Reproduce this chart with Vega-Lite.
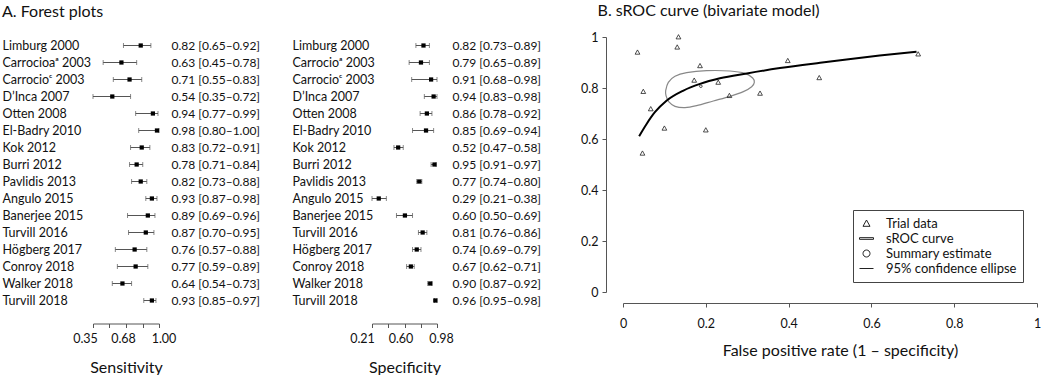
{
  "$schema": "https://vega.github.io/schema/vega-lite/v6.json",
  "padding": {"left": 2, "top": 3, "right": 0, "bottom": 0},
  "config": {
    "font": "Lato",
    "view": {"stroke": null},
    "title": {"fontSize": 16, "fontWeight": "normal", "anchor": "start", "color": "#111"},
    "axis": {"labelFontSize": 12.5, "labelColor": "#111", "domainColor": "#555", "tickColor": "#555", "titleFontWeight": "normal", "titleColor": "#111", "grid": false}
  },
  "datasets": {
    "studies": [
      {"idx": 1, "name_sens": "Limburg 2000", "name_spec": "Limburg 2000", "sens": 0.82, "sens_lo": 0.65, "sens_hi": 0.92, "sens_ci": "0.82 [0.65–0.92]", "spec": 0.82, "spec_lo": 0.73, "spec_hi": 0.89, "spec_ci": "0.82 [0.73–0.89]"},
      {"idx": 2, "name_sens": "Carrocioaᵃ 2003", "name_spec": "Carrocioᵃ 2003", "sens": 0.63, "sens_lo": 0.45, "sens_hi": 0.78, "sens_ci": "0.63 [0.45–0.78]", "spec": 0.79, "spec_lo": 0.65, "spec_hi": 0.89, "spec_ci": "0.79 [0.65–0.89]"},
      {"idx": 3, "name_sens": "Carrocioᶜ 2003", "name_spec": "Carrocioᶜ 2003", "sens": 0.71, "sens_lo": 0.55, "sens_hi": 0.83, "sens_ci": "0.71 [0.55–0.83]", "spec": 0.91, "spec_lo": 0.68, "spec_hi": 0.98, "spec_ci": "0.91 [0.68–0.98]"},
      {"idx": 4, "name_sens": "D’Inca 2007", "name_spec": "D’Inca 2007", "sens": 0.54, "sens_lo": 0.35, "sens_hi": 0.72, "sens_ci": "0.54 [0.35–0.72]", "spec": 0.94, "spec_lo": 0.83, "spec_hi": 0.98, "spec_ci": "0.94 [0.83–0.98]"},
      {"idx": 5, "name_sens": "Otten 2008", "name_spec": "Otten 2008", "sens": 0.94, "sens_lo": 0.77, "sens_hi": 0.99, "sens_ci": "0.94 [0.77–0.99]", "spec": 0.86, "spec_lo": 0.78, "spec_hi": 0.92, "spec_ci": "0.86 [0.78–0.92]"},
      {"idx": 6, "name_sens": "El-Badry 2010", "name_spec": "El-Badry 2010", "sens": 0.98, "sens_lo": 0.80, "sens_hi": 1.00, "sens_ci": "0.98 [0.80–1.00]", "spec": 0.85, "spec_lo": 0.69, "spec_hi": 0.94, "spec_ci": "0.85 [0.69–0.94]"},
      {"idx": 7, "name_sens": "Kok 2012", "name_spec": "Kok 2012", "sens": 0.83, "sens_lo": 0.72, "sens_hi": 0.91, "sens_ci": "0.83 [0.72–0.91]", "spec": 0.52, "spec_lo": 0.47, "spec_hi": 0.58, "spec_ci": "0.52 [0.47–0.58]"},
      {"idx": 8, "name_sens": "Burri 2012", "name_spec": "Burri 2012", "sens": 0.78, "sens_lo": 0.71, "sens_hi": 0.84, "sens_ci": "0.78 [0.71–0.84]", "spec": 0.95, "spec_lo": 0.91, "spec_hi": 0.97, "spec_ci": "0.95 [0.91–0.97]"},
      {"idx": 9, "name_sens": "Pavlidis 2013", "name_spec": "Pavlidis 2013", "sens": 0.82, "sens_lo": 0.73, "sens_hi": 0.88, "sens_ci": "0.82 [0.73–0.88]", "spec": 0.77, "spec_lo": 0.74, "spec_hi": 0.80, "spec_ci": "0.77 [0.74–0.80]"},
      {"idx": 10, "name_sens": "Angulo 2015", "name_spec": "Angulo 2015", "sens": 0.93, "sens_lo": 0.87, "sens_hi": 0.98, "sens_ci": "0.93 [0.87–0.98]", "spec": 0.29, "spec_lo": 0.21, "spec_hi": 0.38, "spec_ci": "0.29 [0.21–0.38]"},
      {"idx": 11, "name_sens": "Banerjee 2015", "name_spec": "Banerjee 2015", "sens": 0.89, "sens_lo": 0.69, "sens_hi": 0.96, "sens_ci": "0.89 [0.69–0.96]", "spec": 0.60, "spec_lo": 0.50, "spec_hi": 0.69, "spec_ci": "0.60 [0.50–0.69]"},
      {"idx": 12, "name_sens": "Turvill 2016", "name_spec": "Turvill 2016", "sens": 0.87, "sens_lo": 0.70, "sens_hi": 0.95, "sens_ci": "0.87 [0.70–0.95]", "spec": 0.81, "spec_lo": 0.76, "spec_hi": 0.86, "spec_ci": "0.81 [0.76–0.86]"},
      {"idx": 13, "name_sens": "Högberg 2017", "name_spec": "Högberg 2017", "sens": 0.76, "sens_lo": 0.57, "sens_hi": 0.88, "sens_ci": "0.76 [0.57–0.88]", "spec": 0.74, "spec_lo": 0.69, "spec_hi": 0.79, "spec_ci": "0.74 [0.69–0.79]"},
      {"idx": 14, "name_sens": "Conroy 2018", "name_spec": "Conroy 2018", "sens": 0.77, "sens_lo": 0.59, "sens_hi": 0.89, "sens_ci": "0.77 [0.59–0.89]", "spec": 0.67, "spec_lo": 0.62, "spec_hi": 0.71, "spec_ci": "0.67 [0.62–0.71]"},
      {"idx": 15, "name_sens": "Walker 2018", "name_spec": "Walker 2018", "sens": 0.64, "sens_lo": 0.54, "sens_hi": 0.73, "sens_ci": "0.64 [0.54–0.73]", "spec": 0.90, "spec_lo": 0.87, "spec_hi": 0.92, "spec_ci": "0.90 [0.87–0.92]"},
      {"idx": 16, "name_sens": "Turvill 2018", "name_spec": "Turvill 2018", "sens": 0.93, "sens_lo": 0.85, "sens_hi": 0.97, "sens_ci": "0.93 [0.85–0.97]", "spec": 0.96, "spec_lo": 0.95, "spec_hi": 0.98, "spec_ci": "0.96 [0.95–0.98]"}
    ],
    "trials": [
      {"fpr": 0.035, "sens": 0.940},
      {"fpr": 0.134, "sens": 1.000},
      {"fpr": 0.131, "sens": 0.960},
      {"fpr": 0.049, "sens": 0.786},
      {"fpr": 0.067, "sens": 0.718},
      {"fpr": 0.047, "sens": 0.544},
      {"fpr": 0.100, "sens": 0.642},
      {"fpr": 0.200, "sens": 0.635},
      {"fpr": 0.186, "sens": 0.887},
      {"fpr": 0.172, "sens": 0.830},
      {"fpr": 0.230, "sens": 0.822},
      {"fpr": 0.257, "sens": 0.770},
      {"fpr": 0.331, "sens": 0.779},
      {"fpr": 0.398, "sens": 0.907},
      {"fpr": 0.474, "sens": 0.840},
      {"fpr": 0.713, "sens": 0.933}
    ],
    "curve": [
      {"fpr": 0.039, "sens": 0.611},
      {"fpr": 0.057, "sens": 0.659},
      {"fpr": 0.077, "sens": 0.705},
      {"fpr": 0.105, "sens": 0.750},
      {"fpr": 0.146, "sens": 0.790},
      {"fpr": 0.186, "sens": 0.816},
      {"fpr": 0.234, "sens": 0.838},
      {"fpr": 0.299, "sens": 0.857},
      {"fpr": 0.379, "sens": 0.878},
      {"fpr": 0.476, "sens": 0.899},
      {"fpr": 0.540, "sens": 0.912},
      {"fpr": 0.620, "sens": 0.927},
      {"fpr": 0.709, "sens": 0.942}
    ],
    "ellipse": [
      {"idx": 1, "fpr": 0.1031, "sens": 0.7895},
      {"idx": 2, "fpr": 0.1095, "sens": 0.8222},
      {"idx": 3, "fpr": 0.1256, "sens": 0.8458},
      {"idx": 4, "fpr": 0.1538, "sens": 0.8601},
      {"idx": 5, "fpr": 0.2021, "sens": 0.8680},
      {"idx": 6, "fpr": 0.2585, "sens": 0.8667},
      {"idx": 7, "fpr": 0.2947, "sens": 0.8575},
      {"idx": 8, "fpr": 0.3132, "sens": 0.8392},
      {"idx": 9, "fpr": 0.3172, "sens": 0.8222},
      {"idx": 10, "fpr": 0.3108, "sens": 0.8052},
      {"idx": 11, "fpr": 0.2907, "sens": 0.7856},
      {"idx": 12, "fpr": 0.2585, "sens": 0.7673},
      {"idx": 13, "fpr": 0.2182, "sens": 0.7490},
      {"idx": 14, "fpr": 0.1779, "sens": 0.7307},
      {"idx": 15, "fpr": 0.1498, "sens": 0.7229},
      {"idx": 16, "fpr": 0.1256, "sens": 0.7281},
      {"idx": 17, "fpr": 0.1103, "sens": 0.7464},
      {"idx": 18, "fpr": 0.1039, "sens": 0.7699}
    ],
    "summary": [
      {"fpr": 0.188, "sens": 0.807}
    ]
  },
  "spacing": 39,
  "hconcat": [
    {
      "title": {"text": "A. Forest plots", "offset": 17},
      "spacing": 32,
      "hconcat": [
        {
          "width": 66,
          "height": 272,
          "data": {"name": "studies"},
          "layer": [
            {
              "mark": {"type": "errorbar", "color": "#555", "ticks": {"size": 5, "thickness": 1, "color": "#555"}, "rule": {"color": "#555", "strokeWidth": 1}},
              "encoding": {
                "y": {"field": "name_sens", "type": "nominal", "sort": {"field": "idx", "op": "min"},
                  "axis": {"orient": "left", "title": null, "domain": false, "ticks": false, "tickSize": 0, "labelAlign": "left", "labelPadding": 91, "labelFontSize": 12.5}},
                "x": {"field": "sens_lo", "type": "quantitative", "title": "Sensitivity",
                  "scale": {"domain": [0.35, 1], "nice": false, "zero": false},
                  "axis": {"values": [0.35, 0.5125, 0.675, 0.8375, 1], "tickCount": 20, "labelExpr": "abs(datum.value - 0.35) < 0.001 ? '0.35' : abs(datum.value - 0.675) < 0.001 ? '0.68' : abs(datum.value - 1) < 0.001 ? '1.00' : ''",
                    "offset": 14.5, "tickSize": 4, "labelPadding": 5, "titleFontSize": 16, "titlePadding": 14, "labelFlush": false, "labelOverlap": false,
                    "labelOffset": {"condition": [{"test": "datum.value < 0.4", "value": -8}, {"test": "datum.value > 0.99", "value": 4.5}], "value": -3}}},
                "x2": {"field": "sens_hi"}
              }
            },
            {
              "mark": {"type": "square", "size": 18, "color": "black", "opacity": 1},
              "encoding": {
                "y": {"field": "sens_ci", "type": "nominal", "sort": {"field": "idx", "op": "min"},
                  "axis": {"orient": "right", "title": null, "domain": false, "ticks": false, "tickSize": 0, "labelAlign": "left", "labelPadding": 12, "labelFontSize": 12}},
                "x": {"field": "sens", "type": "quantitative", "title": "Sensitivity"}
              }
            }
          ],
          "resolve": {"scale": {"y": "independent"}, "axis": {"y": "independent"}}
        },
        {
          "width": 65,
          "height": 272,
          "data": {"name": "studies"},
          "layer": [
            {
              "mark": {"type": "errorbar", "color": "#555", "ticks": {"size": 5, "thickness": 1, "color": "#555"}, "rule": {"color": "#555", "strokeWidth": 1}},
              "encoding": {
                "y": {"field": "name_spec", "type": "nominal", "sort": {"field": "idx", "op": "min"},
                  "axis": {"orient": "left", "title": null, "domain": false, "ticks": false, "tickSize": 0, "labelAlign": "left", "labelPadding": 80, "labelFontSize": 12.5}},
                "x": {"field": "spec_lo", "type": "quantitative", "title": "Specificity",
                  "scale": {"domain": [0.21, 0.98], "nice": false, "zero": false},
                  "axis": {"values": [0.21, 0.4025, 0.595, 0.7875, 0.98], "tickCount": 20, "labelExpr": "abs(datum.value - 0.21) < 0.001 ? '0.21' : abs(datum.value - 0.595) < 0.001 ? '0.60' : abs(datum.value - 0.98) < 0.001 ? '0.98' : ''",
                    "offset": 14.5, "tickSize": 4, "labelPadding": 5, "titleFontSize": 16, "titlePadding": 14, "labelFlush": false, "labelOverlap": false,
                    "labelOffset": {"condition": [{"test": "datum.value < 0.3", "value": -10}, {"test": "datum.value > 0.9", "value": 4}], "value": -4}}},
                "x2": {"field": "spec_hi"}
              }
            },
            {
              "mark": {"type": "square", "size": 18, "color": "black", "opacity": 1},
              "encoding": {
                "y": {"field": "spec_ci", "type": "nominal", "sort": {"field": "idx", "op": "min"},
                  "axis": {"orient": "right", "title": null, "domain": false, "ticks": false, "tickSize": 0, "labelAlign": "left", "labelPadding": 15, "labelFontSize": 12}},
                "x": {"field": "spec", "type": "quantitative", "title": "Specificity"}
              }
            }
          ],
          "resolve": {"scale": {"y": "independent"}, "axis": {"y": "independent"}}
        }
      ]
    },
    {
      "title": {"text": "B. sROC curve (bivariate model)", "offset": 12, "dx": 17},
      "width": 414,
      "height": 255,
      "layer": [
        {
          "data": {"name": "ellipse"},
          "mark": {"type": "line", "color": "#888", "strokeWidth": 1.2, "interpolate": "cardinal-closed"},
          "encoding": {
            "x": {"field": "fpr", "type": "quantitative", "title": "False positive rate (1 – specificity)",
              "scale": {"domain": [0, 1], "nice": false},
              "axis": {"values": [0, 0.2, 0.4, 0.6, 0.8, 1], "format": "~g", "offset": 11, "tickSize": 4, "labelPadding": 10, "titleFontSize": 16, "titlePadding": 13, "labelFlush": false, "titleX": 217}},
            "y": {"field": "sens", "type": "quantitative", "title": null,
              "scale": {"domain": [0, 1], "nice": false},
              "axis": {"values": [0, 0.2, 0.4, 0.6, 0.8, 1], "format": "~g", "offset": 17, "tickSize": 4, "labelPadding": 4, "labelFlush": false}},
            "order": {"field": "idx"}
          }
        },
        {
          "data": {"name": "curve"},
          "mark": {"type": "line", "color": "black", "strokeWidth": 2, "interpolate": "monotone"},
          "encoding": {
            "x": {"field": "fpr", "type": "quantitative"},
            "y": {"field": "sens", "type": "quantitative"}
          }
        },
        {
          "data": {"name": "trials"},
          "mark": {"type": "point", "filled": false, "color": "#222", "strokeWidth": 0.8, "size": 90, "opacity": 1},
          "encoding": {
            "x": {"field": "fpr", "type": "quantitative"},
            "y": {"field": "sens", "type": "quantitative"},
            "shape": {"datum": "Trial data",
              "scale": {"domain": ["Trial data", "sROC curve", "Summary estimate", "95% confidence ellipse"],
                "range": ["M0,-0.5L0.5,0.4L-0.5,0.4Z", "M-1,-0.12L1,-0.12L1,0.12L-1,0.12Z", "M0.5,0A0.5,0.5 0 1,1 -0.5,0A0.5,0.5 0 1,1 0.5,0Z", "M-1,0L1,0"]},
              "legend": {"title": null, "orient": "none", "legendX": 760, "legendY": 173, "strokeColor": "#444", "fillColor": "white", "padding": 6, "labelFontSize": 13, "labelColor": "#111", "symbolSize": 196, "symbolStrokeWidth": 1, "rowPadding": 0, "labelOffset": 12}}
          }
        },
        {
          "data": {"name": "summary"},
          "mark": {"type": "point", "filled": false, "color": "#222", "strokeWidth": 0.8, "size": 30, "opacity": 1},
          "encoding": {
            "x": {"field": "fpr", "type": "quantitative"},
            "y": {"field": "sens", "type": "quantitative"},
            "shape": {"datum": "Summary estimate"}
          }
        }
      ]
    }
  ]
}
